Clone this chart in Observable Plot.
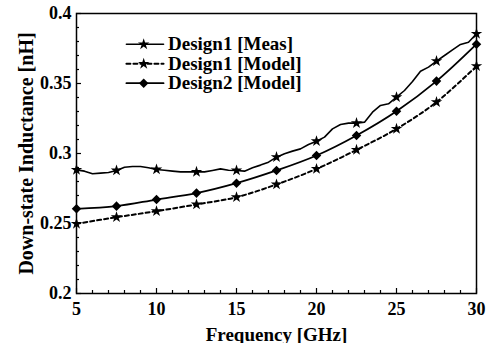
<!DOCTYPE html>
<html><head><meta charset="utf-8">
<script src="https://cdn.jsdelivr.net/npm/d3@7"></script>
<script src="https://cdn.jsdelivr.net/npm/@observablehq/plot@0.6"></script>
<style>
html,body{margin:0;padding:0;background:#fff;}
</style>
</head><body><div id="chart"></div>
<script>
const seriesNames = ["Design1 [Meas]", "Design1 [Model]", "Design2 [Model]"];
const measFreq = [5,5.5,6,6.5,7,7.5,8,8.5,9,9.5,10,10.5,11,11.5,12,12.5,13,13.5,14,14.5,15,15.5,16,16.5,17,17.5,18,18.5,19,19.5,20,20.5,21,21.5,22,22.5,23,23.5,24,24.5,25,25.5,26,26.5,27,27.5,28,28.5,29,29.5,30];
const measValues = [0.2883,0.2874,0.2855,0.2860,0.2864,0.2879,0.2902,0.2907,0.2907,0.2898,0.2886,0.2880,0.2874,0.2869,0.2869,0.2869,0.2869,0.2879,0.2890,0.2880,0.2879,0.2874,0.2898,0.2917,0.2938,0.2974,0.2998,0.3017,0.3033,0.3064,0.3088,0.3117,0.3176,0.3207,0.3217,0.3217,0.3224,0.3295,0.3343,0.3355,0.3402,0.3450,0.3514,0.3588,0.3617,0.3660,0.3700,0.3740,0.3779,0.3795,0.3855];
const markerFreq = [5,7.5,10,12.5,15,17.5,20,22.5,25,27.5,30];
const model1Values = [0.2498,0.2545,0.2588,0.2636,0.2688,0.2779,0.2890,0.3026,0.3176,0.3367,0.3624];
const model2Values = [0.2605,0.2624,0.2671,0.2717,0.2788,0.2879,0.2986,0.3129,0.3302,0.3517,0.3781];
const xTicks = [5,10,15,20,25,30];
const xTickLabels = ["5","10","15","20","25","30"];
const xMinorTicks = [6,7,8,9,11,12,13,14,16,17,18,19,21,22,23,24,26,27,28,29];
const yTicks = [0.2,0.25,0.3,0.35,0.4];
const yTickLabels = ["0.2","0.25","0.3","0.35","0.4"];
const yMinorTicks = [0.21,0.22,0.23,0.24,0.26,0.27,0.28,0.29,0.31,0.32,0.33,0.34,0.36,0.37,0.38,0.39];
const xTitle = "Frequency [GHz]";
const yTitle = "Down-state Inductance [nH]";

const meas = measFreq.map((f, i) => ({f, v: measValues[i]}));
const measMarkers = meas.filter(d => markerFreq.includes(d.f));
const model1 = markerFreq.map((f, i) => ({f, v: model1Values[i]}));
const model2 = markerFreq.map((f, i) => ({f, v: model2Values[i]}));

const styles = [
  {dash: null, sw: 1.6, symbol: "star", r: 3.6},
  {dash: "4,3", sw: 2, symbol: "star", r: 3.6},
  {dash: null, sw: 1.8, symbol: "diamond2", r: 4.3}
];

const legendMarks = [];
seriesNames.forEach((name, i) => {
  const y = 0.378 - i * 0.0139;
  const s = styles[i];
  legendMarks.push(Plot.line([{x: 8.12, y}, {x: 10.44, y}], {x: "x", y: "y", stroke: "#000", strokeWidth: s.sw, strokeDasharray: s.dash}));
  legendMarks.push(Plot.dot([{x: 9.2, y}], {x: "x", y: "y", symbol: s.symbol, r: s.r, fill: "#000", stroke: "none"}));
  legendMarks.push(Plot.text([{x: 10.72, y, name}], {x: "x", y: "y", text: "name", textAnchor: "start", fontSize: 19}));
});

const chart = Plot.plot({
  width: 488, height: 343,
  marginLeft: 76, marginRight: 12, marginTop: 13, marginBottom: 50,
  style: {fontFamily: '"Liberation Serif", serif', fontWeight: "bold", fontSize: "18px", background: "#fff", color: "#000", overflow: "visible"},
  x: {domain: [5, 30], label: null},
  y: {domain: [0.2, 0.4], label: null},
  marks: [
    Plot.axisX({ticks: xMinorTicks, tickSize: -3, tickFormat: () => "", label: null, strokeWidth: 1.2}),
    Plot.axisX({ticks: xTicks, tickSize: -5, tickFormat: () => "", label: null, strokeWidth: 1.2}),
    Plot.axisX({ticks: xTicks, tickSize: 0, tickPadding: 9, tickFormat: d => xTickLabels[xTicks.indexOf(d)], label: null}),
    Plot.axisY({ticks: yMinorTicks, tickSize: -3, tickFormat: () => "", label: null, strokeWidth: 1.2}),
    Plot.axisY({ticks: yTicks, tickSize: -5, tickFormat: () => "", label: null, strokeWidth: 1.2}),
    Plot.axisY({ticks: yTicks, tickSize: 0, tickPadding: 5, tickFormat: d => yTickLabels[yTicks.indexOf(d)], label: null}),
    Plot.frame({stroke: "#000", strokeWidth: 1.5}),
    Plot.line(meas, {x: "f", y: "v", stroke: "#000", strokeWidth: styles[0].sw}),
    Plot.line(model1, {x: "f", y: "v", stroke: "#000", strokeWidth: styles[1].sw, strokeDasharray: styles[1].dash, curve: "catmull-rom"}),
    Plot.line(model2, {x: "f", y: "v", stroke: "#000", strokeWidth: styles[2].sw, curve: "catmull-rom"}),
    Plot.dot(measMarkers, {x: "f", y: "v", symbol: "star", r: styles[0].r, fill: "#000", stroke: "none"}),
    Plot.dot(model1, {x: "f", y: "v", symbol: "star", r: styles[1].r, fill: "#000", stroke: "none"}),
    Plot.dot(model2, {x: "f", y: "v", symbol: "diamond2", r: styles[2].r, fill: "#000", stroke: "none"}),
    ...legendMarks,
    Plot.text([xTitle], {text: d => d, frameAnchor: "bottom", textAnchor: "middle", dy: 47, fontSize: 19}),
    Plot.text([yTitle], {text: d => d, frameAnchor: "left", textAnchor: "middle", rotate: -90, dx: -50, fontSize: 20})
  ]
});
document.getElementById("chart").appendChild(chart);
</script>
</body></html>
